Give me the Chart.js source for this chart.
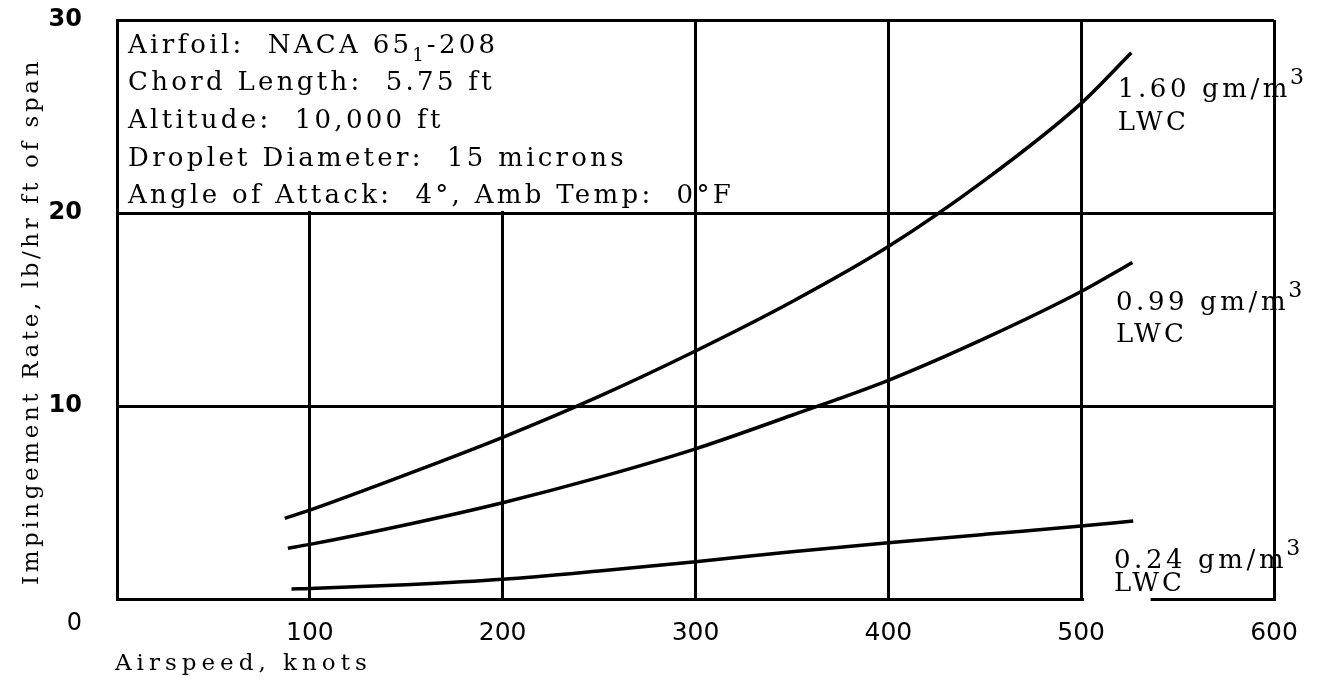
<!DOCTYPE html>
<html>
<head>
<meta charset="utf-8">
<script src="https://cdn.jsdelivr.net/npm/chart.js@4"></script>
<style>
  html, body { margin: 0; padding: 0; background: #fff; }
  #wrap { width: 1325px; height: 682px; }
</style>
</head>
<body>
<div id="wrap"><canvas id="chart"></canvas></div>
<script>
// curve values (airspeed in knots, rate in lb/hr ft)
const airspeed160 = [87, 100, 150, 200, 250, 300, 350, 400, 450, 500, 526];
const rate160 = [4.18, 4.61, 6.45, 8.38, 10.5, 12.85, 15.4, 18.26, 21.7, 25.68, 28.3];
const airspeed099 = [88.6, 100, 150, 200, 250, 300, 350, 400, 450, 500, 526.6];
const rate099 = [2.63, 2.83, 3.85, 4.99, 6.3, 7.78, 9.52, 11.33, 13.5, 15.93, 17.44];
const airspeed024 = [90.5, 100, 150, 200, 250, 300, 350, 400, 450, 500, 527];
const rate024 = [0.52, 0.54, 0.74, 1.02, 1.45, 1.93, 2.45, 2.91, 3.35, 3.78, 4.04];

const xTicks = [100, 200, 300, 400, 500, 600];
const yTicks = [0, 10, 20, 30];

const infoLines = [
    'Chord Length:  5.75 ft',
    'Altitude:  10,000 ft',
    'Droplet Diameter:  15 microns',
    'Angle of Attack:  4°, Amb Temp:  0°F'
];
const curveLabels = [
    { text: '1.60 gm/m', x: 519, y: 26.0, lwcY: 24.3 },
    { text: '0.99 gm/m', x: 518, y: 15.0, lwcY: 13.3 },
    { text: '0.24 gm/m', x: 517, y: 1.6, lwcY: 0.4 }
];

const toPoints = (xs, ys) => xs.map((x, i) => ({ x: x, y: ys[i] }));

const serif = '"DejaVu Serif", "Liberation Serif", serif';

// draws text with extra spacing between letters
function spacedText(ctx, text, x, y, spacing) {
    ctx.letterSpacing = spacing + 'px';
    ctx.fillText(text, x, y);
    const w = ctx.measureText(text).width;
    ctx.letterSpacing = '0px';
    return w;
}

const paperPlugin = {
    id: 'paper',
    beforeDatasetsDraw(chart) {
        const ctx = chart.ctx;
        const xs = chart.scales.x, ys = chart.scales.y;
        ctx.save();
        ctx.fillStyle = '#fff';
        // info box has no inner grid lines
        const l = xs.getPixelForValue(0) + 2, r = xs.getPixelForValue(300) - 2;
        const t = ys.getPixelForValue(30) + 2, b = ys.getPixelForValue(20) - 2;
        ctx.fillRect(l, t, r - l, b - t);
        // break in the bottom border under the lowest label
        const g1 = xs.getPixelForValue(501.5), g2 = xs.getPixelForValue(536);
        const y0 = ys.getPixelForValue(0);
        ctx.fillRect(g1, y0 - 3, g2 - g1, 6);
        ctx.restore();
    },
    afterDraw(chart) {
        const ctx = chart.ctx;
        const xs = chart.scales.x, ys = chart.scales.y;
        const area = chart.chartArea;
        ctx.save();
        ctx.fillStyle = '#000';
        ctx.textBaseline = 'alphabetic';
        ctx.textAlign = 'left';

        // info box text
        const ix = xs.getPixelForValue(5.7);
        const iy = ys.getPixelForValue(28.3);
        const step = ys.getPixelForValue(28.3) - ys.getPixelForValue(30.25);
        ctx.font = '26px ' + serif;
        let w = spacedText(ctx, 'Airfoil:  NACA 65', ix, iy, 3.3);
        ctx.font = '18px ' + serif;
        w += spacedText(ctx, '1', ix + w, iy + 8, 1);
        ctx.font = '26px ' + serif;
        spacedText(ctx, '-208', ix + w + 2, iy, 3.3);
        infoLines.forEach((line, i) => {
            spacedText(ctx, line, ix, iy + step * (i + 1), 3.3);
        });

        // curve labels
        curveLabels.forEach(c => {
            const px = xs.getPixelForValue(c.x);
            ctx.font = '26px ' + serif;
            const tw = spacedText(ctx, c.text, px, ys.getPixelForValue(c.y), 3.6);
            ctx.font = '22px ' + serif;
            ctx.fillText('3', px + tw - 1, ys.getPixelForValue(c.y) - 13);
            ctx.font = '26px ' + serif;
            spacedText(ctx, 'LWC', px, ys.getPixelForValue(c.lwcY), 3.2);
        });

        // origin label
        ctx.font = '24px "DejaVu Sans", sans-serif';
        ctx.textAlign = 'right';
        ctx.fillText('0', area.left - 35, ys.getPixelForValue(0) + 31);

        // axis titles
        ctx.textAlign = 'left';
        ctx.font = '23px ' + serif;
        spacedText(ctx, 'Airspeed, knots', area.left - 2, 670, 5);

        ctx.translate(38, (area.top + area.bottom) / 2 + 12);
        ctx.rotate(-Math.PI / 2);
        ctx.textAlign = 'center';
        ctx.font = '23px ' + serif;
        ctx.letterSpacing = '3.6px';
        ctx.fillText('Impingement Rate, lb/hr ft of span', 0, 0);
        ctx.restore();
    }
};

const lineStyle = {
    borderColor: '#000',
    borderWidth: 3.5,
    pointRadius: 0,
    fill: false,
    cubicInterpolationMode: 'monotone'
};

new Chart(document.getElementById('chart'), {
    type: 'line',
    data: {
        datasets: [
            { label: '1.60 gm/m3 LWC', data: toPoints(airspeed160, rate160), ...lineStyle },
            { label: '0.99 gm/m3 LWC', data: toPoints(airspeed099, rate099), ...lineStyle },
            { label: '0.24 gm/m3 LWC', data: toPoints(airspeed024, rate024), ...lineStyle }
        ]
    },
    options: {
        responsive: true,
        maintainAspectRatio: false,
        animation: false,
        layout: { padding: { top: 20, right: 51, bottom: 0, left: 0 } },
        plugins: {
            legend: { display: false },
            tooltip: { enabled: false }
        },
        scales: {
            x: {
                type: 'linear',
                min: 0,
                max: 600,
                afterBuildTicks: s => { s.ticks = [0].concat(xTicks).map(v => ({ value: v })); },
                afterFit: s => {
                    s.height = 83;
                    s.paddingLeft = 0;
                    s.paddingRight = 0;
                },
                grid: { color: '#000', lineWidth: 3, drawTicks: false },
                border: { color: '#000', width: 3 },
                ticks: {
                    color: '#000',
                    padding: 19,
                    font: { family: '"DejaVu Sans", sans-serif', size: 25 },
                    callback: v => (v === 0 ? '' : v)
                }
            },
            y: {
                type: 'linear',
                min: 0,
                max: 30,
                afterBuildTicks: s => { s.ticks = yTicks.map(v => ({ value: v })); },
                afterFit: s => {
                    s.width = 117;
                    s.paddingTop = 0;
                    s.paddingBottom = 0;
                },
                grid: { color: '#000', lineWidth: 3, drawTicks: false },
                border: { color: '#000', width: 3 },
                ticks: {
                    color: '#000',
                    padding: 35,
                    font: { family: '"DejaVu Sans", sans-serif', size: 24, weight: 'bold' },
                    callback: v => (v === 0 ? '' : v)
                }
            }
        }
    },
    plugins: [paperPlugin]
});
</script>
</body>
</html>
